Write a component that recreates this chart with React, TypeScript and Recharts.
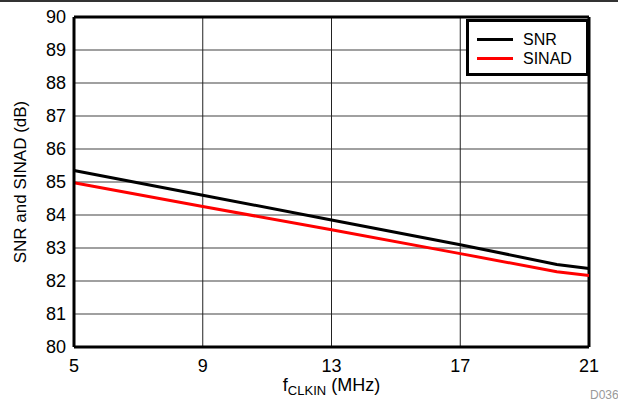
import React from 'react';
import {
  LineChart,
  Line,
  XAxis,
  YAxis,
  CartesianGrid,
  ReferenceLine,
} from 'recharts';

// clock frequency in MHz
const freq = [5, 9, 13, 17, 20, 21];
// dB values per frequency
const snr = [85.35, 84.6, 83.85, 83.1, 82.5, 82.38];
const sinad = [84.98, 84.26, 83.55, 82.83, 82.28, 82.17];

const xTicks = [5, 9, 13, 17, 21];
const yTicks = [80, 81, 82, 83, 84, 85, 86, 87, 88, 89, 90];

const series = [
  { key: 'snr', name: 'SNR', color: '#000' },
  { key: 'sinad', name: 'SINAD', color: '#ff0000' },
];

const data = freq.map((f, i) => ({ f, snr: snr[i], sinad: sinad[i] }));

const FONT = '"Liberation Sans", Arial, Helvetica, sans-serif';

// legend drawn over the plot's top-right corner
const LegendBox = () => (
  <div
    style={{
      position: 'absolute',
      left: 466,
      top: 19,
      width: 123,
      height: 57,
      boxSizing: 'border-box',
      border: '3px solid #000',
      background: '#fff',
      fontFamily: FONT,
      fontSize: 16,
      color: '#000',
      paddingTop: 8,
    }}
  >
    {series.map((item) => (
      <div key={item.name} style={{ display: 'flex', alignItems: 'center', height: 19 }}>
        <div style={{ width: 36, height: 3, background: item.color, marginLeft: 8, marginRight: 10 }} />
        <span>{item.name}</span>
      </div>
    ))}
  </div>
);

const XLabel = ({ viewBox }: any) => {
  const { x, y, width } = viewBox;
  return (
    <text x={x + width / 2} y={y + 44} textAnchor="middle" fontFamily={FONT} fontSize={18} fill="#000">
      <tspan>f</tspan>
      <tspan fontSize={13} dy={4}>CLKIN</tspan>
      <tspan dy={-4}> (MHz)</tspan>
    </text>
  );
};

const YLabel = ({ viewBox }: any) => {
  const { y, height } = viewBox;
  const cx = 20;
  const cy = y + height / 2;
  return (
    <text
      x={cx}
      y={cy}
      transform={`rotate(-90 ${cx} ${cy})`}
      textAnchor="middle"
      dominantBaseline="central"
      fontFamily={FONT}
      fontSize={17}
      fill="#000"
    >
      SNR and SINAD (dB)
    </text>
  );
};

export default function App() {
  return (
    <div
      style={{
        position: 'absolute',
        left: 0,
        top: 0,
        width: 618,
        height: 403,
        background: '#fff',
        overflow: 'hidden',
      }}
    >
      <div style={{ position: 'absolute', left: 0, top: 0, width: 618, height: 2, background: '#333' }} />
      <LineChart width={618} height={403} data={data} margin={{ top: 17, right: 29, left: 0, bottom: 0 }}>
        <CartesianGrid horizontal={true} vertical={false} stroke="#808080" strokeWidth={1.5} />
        <CartesianGrid horizontal={false} vertical={true} stroke="#222" strokeWidth={1} />
        <XAxis
          dataKey="f"
          type="number"
          domain={[5, 21]}
          ticks={xTicks}
          height={56}
          tickSize={0}
          tickMargin={12}
          axisLine={{ stroke: '#000', strokeWidth: 3 }}
          tick={{ fill: '#000', fontSize: 18, fontFamily: FONT }}
          label={<XLabel />}
        />
        <YAxis
          type="number"
          domain={[80, 90]}
          ticks={yTicks}
          width={74}
          tickSize={0}
          tickMargin={8}
          axisLine={{ stroke: '#000', strokeWidth: 3 }}
          tick={{ fill: '#000', fontSize: 18, fontFamily: FONT }}
          label={<YLabel />}
        />
        <ReferenceLine y={90} stroke="#000" strokeWidth={3} />
        <ReferenceLine x={21} stroke="#000" strokeWidth={3} />
        {series.map((s) => (
          <Line
            key={s.key}
            dataKey={s.key}
            name={s.name}
            type="linear"
            stroke={s.color}
            strokeWidth={3}
            dot={false}
            isAnimationActive={false}
          />
        ))}
      </LineChart>
      <LegendBox />
      <div
        style={{
          position: 'absolute',
          left: 590,
          top: 388,
          fontFamily: FONT,
          fontSize: 12,
          color: '#999',
        }}
      >
        D036
      </div>
    </div>
  );
}
